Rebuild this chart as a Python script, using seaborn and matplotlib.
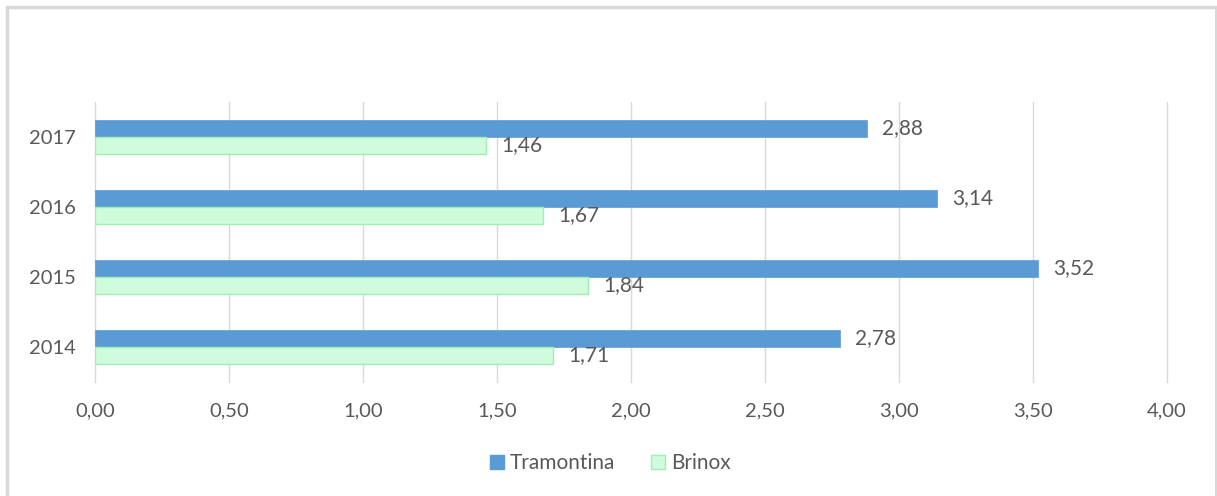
import pandas as pd
import matplotlib.pyplot as plt
import seaborn as sns
from matplotlib.lines import Line2D

# Data
years = ['2017', '2016', '2015', '2014']
tramontina = [2.88, 3.14, 3.52, 2.78]
brinox = [1.46, 1.67, 1.84, 1.71]
series_names = ['Tramontina', 'Brinox']
x_ticks = [0.0, 0.5, 1.0, 1.5, 2.0, 2.5, 3.0, 3.5, 4.0]

df = pd.DataFrame({
    'Ano': years * 2,
    'Valor': tramontina + brinox,
    'Empresa': [series_names[0]] * len(years) + [series_names[1]] * len(years),
})

sns.set_style('white')
plt.rcParams['font.family'] = ['Lato', 'DejaVu Sans']
text_color = '#595959'
grid_color = '#D9D9D9'
blue = '#5B9BD5'
green_fill = '#D0FBDC'
green_edge = '#9EEFB4'

fig = plt.figure(figsize=(12.17, 4.96), dpi=100)
ax = fig.add_axes([95 / 1217, 114 / 496, 1072 / 1217, 280 / 496])

sns.barplot(data=df, y='Ano', x='Valor', hue='Empresa', order=years,
            hue_order=series_names, palette=[blue, green_fill], width=0.49,
            saturation=1, orient='h', ax=ax, legend=False)

# Bar edges: green series gets a slightly darker outline
for bar in ax.containers[1]:
    bar.set_edgecolor(green_edge)
    bar.set_linewidth(1.0)
for bar in ax.containers[0]:
    bar.set_edgecolor(blue)
    bar.set_linewidth(0.5)

# Data labels with comma decimal separator
for cont in ax.containers:
    ax.bar_label(cont, fmt=lambda v: f'{v:.2f}'.replace('.', ','),
                 padding=11, fontsize=15, color=text_color)

ax.set_xlim(0, 4)
ax.set_ylim(3.5, -0.5)
ax.set_xticks(x_ticks)
ax.set_xticklabels([f'{t:.2f}'.replace('.', ',') for t in x_ticks])
ax.set_xlabel('')
ax.set_ylabel('')
ax.tick_params(axis='both', length=0, labelsize=14.5, labelcolor=text_color)
ax.tick_params(axis='x', pad=15)
ax.tick_params(axis='y', pad=14)
ax.grid(axis='x', color=grid_color, linewidth=1)
for gl in ax.get_xgridlines():
    gl.set_clip_on(False)
ax.set_axisbelow(True)
for s in ax.spines.values():
    s.set_visible(False)

# Legend at the bottom
handles = [
    Line2D([], [], marker='s', linestyle='', markersize=10,
           markerfacecolor=blue, markeredgecolor=blue),
    Line2D([], [], marker='s', linestyle='', markersize=10,
           markerfacecolor=green_fill, markeredgecolor=green_edge),
]
fig.legend(handles, series_names, loc='center', bbox_to_anchor=(0.5, 1 - 463 / 496),
           ncol=2, frameon=False, fontsize=15, labelcolor=text_color,
           handletextpad=0.1, columnspacing=1.6, handlelength=1.0)

# Chart frame (top, left, right border)
y_top = 1 - 7 / 496
fig.add_artist(Line2D([7 / 1217, 1216 / 1217], [y_top, y_top], color=grid_color, lw=2.5))
fig.add_artist(Line2D([7 / 1217, 7 / 1217], [y_top, 0], color=grid_color, lw=2.5))
fig.add_artist(Line2D([1216 / 1217, 1216 / 1217], [y_top, 0], color=grid_color, lw=1.5))

fig.savefig('out.png', dpi=100)
